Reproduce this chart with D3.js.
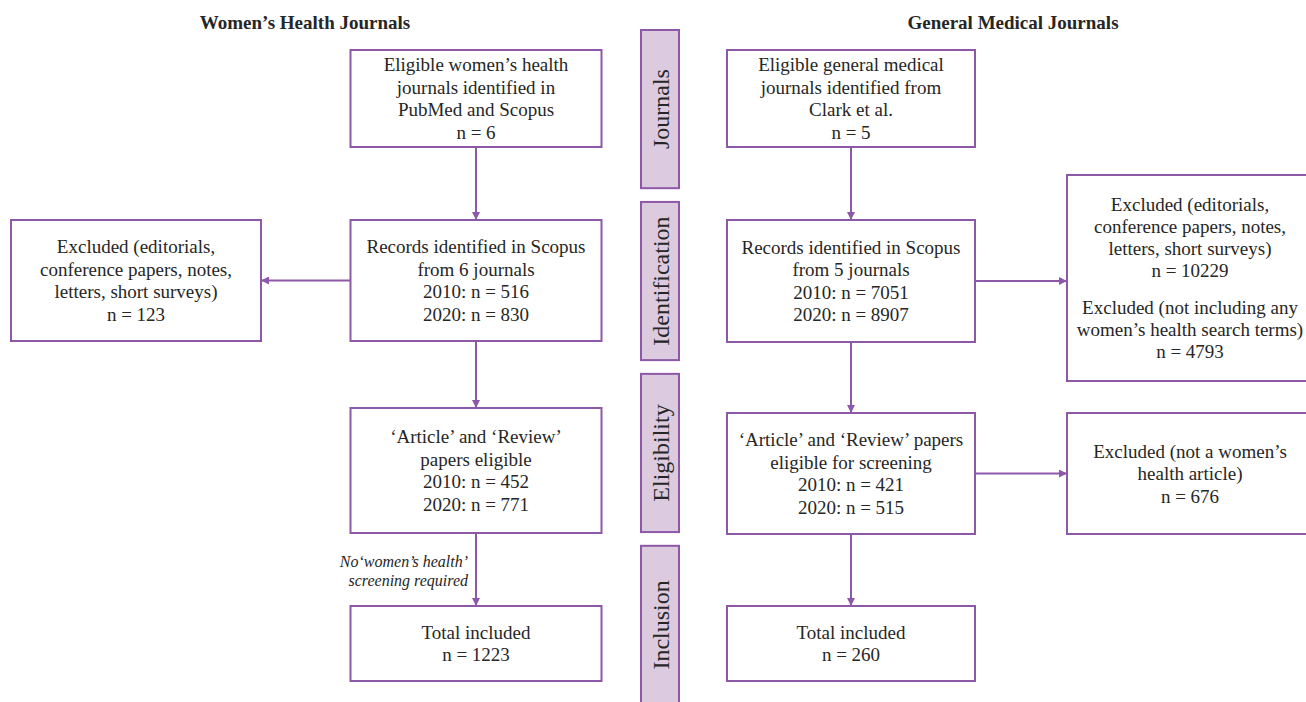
<!DOCTYPE html>
<html>
<head>
<meta charset="utf-8">
<script src="https://cdn.jsdelivr.net/npm/d3@7"></script>
<style>
  html, body { margin: 0; padding: 0; background: #fff; overflow: hidden; }
  text { font-family: "Liberation Serif", "Times New Roman", serif; fill: #262626; }
</style>
</head>
<body>
<div id="chart"></div>
<script>
// flow content
const stages = ["Journals", "Identification", "Eligibility", "Inclusion"];
const groupTitles = ["Women’s Health Journals", "General Medical Journals"];

const womenSteps = [
  ["Eligible women’s health", "journals identified in", "PubMed and Scopus", "n = 6"],
  ["Records identified in Scopus", "from 6 journals", "2010: n = 516", "2020: n = 830"],
  ["‘Article’ and ‘Review’", "papers eligible", "2010: n = 452", "2020: n = 771"],
  ["Total included", "n = 1223"]
];
const generalSteps = [
  ["Eligible general medical", "journals identified from", "Clark et al.", "n = 5"],
  ["Records identified in Scopus", "from 5 journals", "2010: n = 7051", "2020: n = 8907"],
  ["‘Article’ and ‘Review’ papers", "eligible for screening", "2010: n = 421", "2020: n = 515"],
  ["Total included", "n = 260"]
];
const womenExcluded = [
  ["Excluded (editorials,", "conference papers, notes,", "letters, short surveys)", "n = 123"]
];
const generalExcluded = [
  ["Excluded (editorials,", "conference papers, notes,", "letters, short surveys)", "n = 10229", "",
   "Excluded (not including any", "women’s health search terms)", "n = 4793"],
  ["Excluded (not a women’s", "health article)", "n = 676"]
];
const stepNote = ["No‘women’s health’", "screening required"];

// layout (kept apart from the content)
const W = 1306, H = 702;
const purple = "#8d58a8";
const stageFill = "#dccbdf";

const svg = d3.select("#chart").append("svg")
  .attr("width", W)
  .attr("height", H)
  .attr("viewBox", `0 0 ${W} ${H}`);

svg.append("defs").append("marker")
  .attr("id", "arrow")
  .attr("markerUnits", "userSpaceOnUse")
  .attr("viewBox", "0 0 10 10")
  .attr("refX", 10)
  .attr("refY", 5)
  .attr("markerWidth", 9)
  .attr("markerHeight", 8)
  .attr("orient", "auto")
  .append("path")
  .attr("d", "M0,0 L10,5 L0,10 Z")
  .attr("fill", purple);

// stage rows
const stageY = d3.scaleBand()
  .domain(stages)
  .range([30, 704])
  .paddingInner(0.08)
  .paddingOuter(0);

// column centres
const colX = d3.scaleOrdinal()
  .domain(["women", "general", "womenOut", "generalOut"])
  .range([476, 851, 136, 1201]);

const boxW = { women: 251, general: 248, womenOut: 250, generalOut: 268 };

// box top/bottom for each step
const womenRows = [[50, 147], [220, 341], [408, 533], [606, 681]];
const generalRows = [[50, 147], [220, 342], [413, 534], [606, 681]];

// titles
svg.selectAll("text.title")
  .data(groupTitles)
  .join("text")
  .attr("class", "title")
  .attr("x", (d, i) => [305, 1013][i])
  .attr("y", 29)
  .attr("text-anchor", "middle")
  .attr("font-size", 19)
  .attr("font-weight", "bold")
  .text(d => d);

// stage labels
const st = svg.selectAll("g.stage")
  .data(stages)
  .join("g")
  .attr("class", "stage");

st.append("rect")
  .attr("x", 641)
  .attr("y", d => stageY(d))
  .attr("width", 38)
  .attr("height", stageY.bandwidth())
  .attr("fill", stageFill)
  .attr("stroke", purple)
  .attr("stroke-width", 2);

st.append("text")
  .attr("transform", d => `translate(661,${stageY(d) + stageY.bandwidth() / 2}) rotate(-90)`)
  .attr("text-anchor", "middle")
  .attr("dominant-baseline", "central")
  .attr("font-size", 24)
  .text(d => d);

function drawBox(lines, col, cx, top, bottom, w, textCx, lineH = 22.5, gapH = 16) {
  const g = svg.append("g").attr("class", "box " + col);
  g.append("rect")
    .attr("x", cx - w / 2)
    .attr("y", top)
    .attr("width", w)
    .attr("height", bottom - top)
    .attr("fill", "#fff")
    .attr("stroke", purple)
    .attr("stroke-width", 2);

  // blank entries give a smaller gap
  const hs = lines.map(l => l === "" ? gapH : lineH);
  const total = d3.sum(hs);
  let y = (top + bottom) / 2 - total / 2;
  const ys = hs.map(h => { const c = y + h / 2; y += h; return c; });

  g.selectAll("text")
    .data(lines)
    .join("text")
    .attr("x", textCx == null ? cx : textCx)
    .attr("y", (d, i) => ys[i])
    .attr("text-anchor", "middle")
    .attr("dominant-baseline", "central")
    .attr("font-size", 19)
    .text(d => d);
}

function arrow(x1, y1, x2, y2) {
  svg.append("line")
    .attr("x1", x1).attr("y1", y1)
    .attr("x2", x2).attr("y2", y2)
    .attr("stroke", purple)
    .attr("stroke-width", 2)
    .attr("marker-end", "url(#arrow)");
}

// vertical arrows first so boxes sit on top
womenRows.slice(1).forEach((r, i) => arrow(colX("women"), womenRows[i][1], colX("women"), r[0]));
generalRows.slice(1).forEach((r, i) => arrow(colX("general"), generalRows[i][1], colX("general"), r[0]));

// side arrows
arrow(colX("women") - boxW.women / 2, d3.mean(womenRows[1]), colX("womenOut") + boxW.womenOut / 2, d3.mean(womenRows[1]));
arrow(colX("general") + boxW.general / 2, d3.mean(generalRows[1]), 1067, d3.mean(generalRows[1]));
arrow(colX("general") + boxW.general / 2, d3.mean(generalRows[2]), 1067, d3.mean(generalRows[2]));

womenSteps.forEach((lines, i) => drawBox(lines, "women", colX("women"), womenRows[i][0], womenRows[i][1], boxW.women));
generalSteps.forEach((lines, i) => drawBox(lines, "general", colX("general"), generalRows[i][0], generalRows[i][1], boxW.general));

drawBox(womenExcluded[0], "womenOut", colX("womenOut"), womenRows[1][0], womenRows[1][1], boxW.womenOut);
drawBox(generalExcluded[0], "generalOut", colX("generalOut"), 175, 381, boxW.generalOut, 1190, 21.8, 16);
drawBox(generalExcluded[1], "generalOut", 1190, generalRows[2][0], generalRows[2][1], 246);

// note beside the last women's arrow
svg.selectAll("text.note")
  .data(stepNote)
  .join("text")
  .attr("class", "note")
  .attr("x", 468)
  .attr("y", (d, i) => 561 + i * 19)
  .attr("text-anchor", "end")
  .attr("dominant-baseline", "central")
  .attr("font-size", 16)
  .attr("font-style", "italic")
  .text(d => d);
</script>
</body>
</html>
